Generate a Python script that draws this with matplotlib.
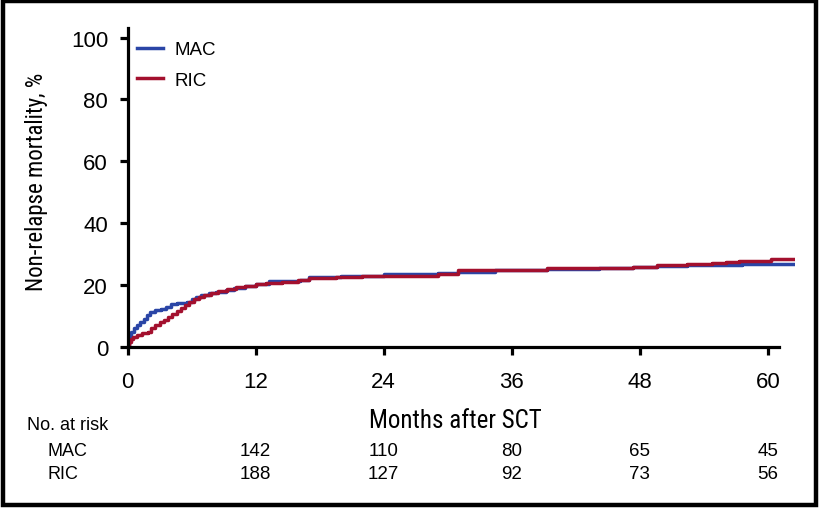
import matplotlib
matplotlib.use("Agg")
from matplotlib import pyplot as plt
from matplotlib import font_manager
from matplotlib.patches import Rectangle

# cumulative incidence of non-relapse mortality (step curves)
mac_months = [0, 0.1, 0.2, 0.35, 0.6, 0.9, 1.2, 1.5, 1.8, 2.1, 2.6, 3.1, 3.6, 4.1, 4.6,
              5.6, 6.0, 6.4, 6.9, 7.6, 8.3, 9.2, 10.0, 11.0, 12.0, 13.3, 15.0, 16.2,
              17.0, 20.0, 24.0, 25.0, 29.1, 31.0, 34.4, 39.3, 44.2, 47.4, 49.6, 52.4,
              57.6, 62.4]
mac_nrm = [0, 2.0, 3.5, 5.0, 6.0, 7.2, 8.2, 9.0, 10.3, 11.3, 11.8, 12.3, 13.0, 13.9, 14.3,
           14.6, 15.4, 16.1, 16.8, 17.3, 17.8, 18.3, 19.0, 19.6, 20.3, 21.3, 21.4, 21.8,
           22.6, 23.0, 23.5, 23.6, 23.9, 24.1, 24.8, 25.2, 25.5, 25.8, 26.3, 26.6,
           26.9, 26.9]

ric_months = [0, 0.1, 0.3, 0.5, 0.9, 1.4, 1.9, 2.2, 2.6, 3.0, 3.4, 3.8, 4.2, 4.6, 5.0,
              5.4, 5.8, 6.2, 6.7, 7.2, 7.8, 8.5, 9.3, 10.2, 11.0, 12.0, 13.0, 14.5,
              16.0, 17.0, 19.5, 22.0, 26.8, 29.1, 31.0, 34.4, 39.3, 44.2, 47.4, 49.6,
              52.4, 54.8, 56.1, 57.3, 60.3, 62.4]
ric_nrm = [0, 1.5, 2.5, 3.2, 4.0, 4.4, 5.0, 6.3, 7.2, 8.0, 8.8, 9.7, 10.6, 11.6, 12.6,
           13.6, 14.5, 15.4, 16.2, 16.9, 17.6, 18.2, 18.8, 19.3, 19.8, 20.3, 20.8, 21.1,
           21.5, 22.3, 22.7, 23.0, 23.1, 23.7, 24.8, 25.0, 25.4, 25.6, 25.9, 26.5,
           26.8, 27.1, 27.5, 27.9, 28.3, 28.3]

x_ticks = [0, 12, 24, 36, 48, 60]
y_ticks = [0, 20, 40, 60, 80, 100]
risk_groups = ["MAC", "RIC"]
mac_at_risk = [142, 110, 80, 65, 45]
ric_at_risk = [188, 127, 92, 73, 56]
risk_months = [12, 24, 36, 48, 60]

blue = "#2a45a6"
red = "#a3102e"
W, H = 821, 510
plt.rcParams["font.family"] = ["Liberation Sans", "DejaVu Sans"]

# the axis titles use a condensed face; take one if there is any, else plain Liberation Sans
installed = {f.name for f in font_manager.fontManager.ttflist}
condensed = None
for name in ["Liberation Sans Narrow", "Arial Narrow", "Roboto Condensed", "Open Sans Condensed"]:
    if name in installed:
        condensed = dict(family=name, stretch="normal")
        break
if condensed is None and any(f.name == "DejaVu Sans" and f.stretch == "condensed"
                             for f in font_manager.fontManager.ttflist):
    condensed = dict(family="DejaVu Sans", stretch="condensed")
if condensed is None:
    title_font = dict(family="Liberation Sans")
    ylab_size, xlab_size = 14.5, 15
else:
    title_font = condensed
    ylab_size, xlab_size = 16.5, 18


def fig_xy(x, y):
    # pixel position (from top-left) to figure fraction
    return x / W, 1 - y / H


fig = plt.figure(figsize=(W / 100, H / 100), dpi=100)
ax = fig.add_axes([127.5 / W, 162 / H, 62.5 * 10.675 / W, 103 * 3.095 / H])

ax.step(mac_months, mac_nrm, where="post", color=blue, lw=2.5, label="MAC")
ax.step(ric_months, ric_nrm, where="post", color=red, lw=2.5, label="RIC")

ax.set_xlim(0, 62.5)
ax.set_ylim(0, 103)
ax.set_xticks(x_ticks)
ax.set_yticks(y_ticks)
for s in ["top", "right"]:
    ax.spines[s].set_visible(False)
for s in ["left", "bottom"]:
    ax.spines[s].set_linewidth(2.3)
ax.spines["bottom"].set_bounds(0, 61)
ax.tick_params(direction="out", length=6, width=2.3, labelsize=16)
ax.tick_params(axis="x", pad=11)
ax.tick_params(axis="y", pad=8)

ax.legend(loc="upper left", bbox_to_anchor=fig_xy(137, 42), bbox_transform=fig.transFigure,
          frameon=False, fontsize=13.5, handlelength=1.4, handletextpad=0.6,
          labelspacing=0.72, borderpad=0, borderaxespad=0)

fig.text(*fig_xy(36, 182), "Non-relapse mortality, %", rotation=90, ha="center",
         va="center", fontsize=ylab_size, **title_font)
fig.text(*fig_xy(455, 421), "Months after SCT", ha="center", va="center",
         fontsize=xlab_size, **title_font)

fig.text(*fig_xy(27, 425), "No. at risk", ha="left", va="center", fontsize=13)
row_y = [452, 475]
for name, counts, yy in zip(risk_groups, [mac_at_risk, ric_at_risk], row_y):
    fig.text(*fig_xy(47, yy), name, ha="left", va="center", fontsize=13)
    for m, n in zip(risk_months, counts):
        xx = 127.5 + m * 10.675
        fig.text(*fig_xy(xx, yy), str(n), ha="center", va="center", fontsize=13.5)

fig.patches.append(Rectangle((3 / W, 4.5 / H), 812.5 / W, 503.5 / H, transform=fig.transFigure,
                             fill=False, edgecolor="black", lw=3.2))

fig.savefig("out.png", dpi=100)
